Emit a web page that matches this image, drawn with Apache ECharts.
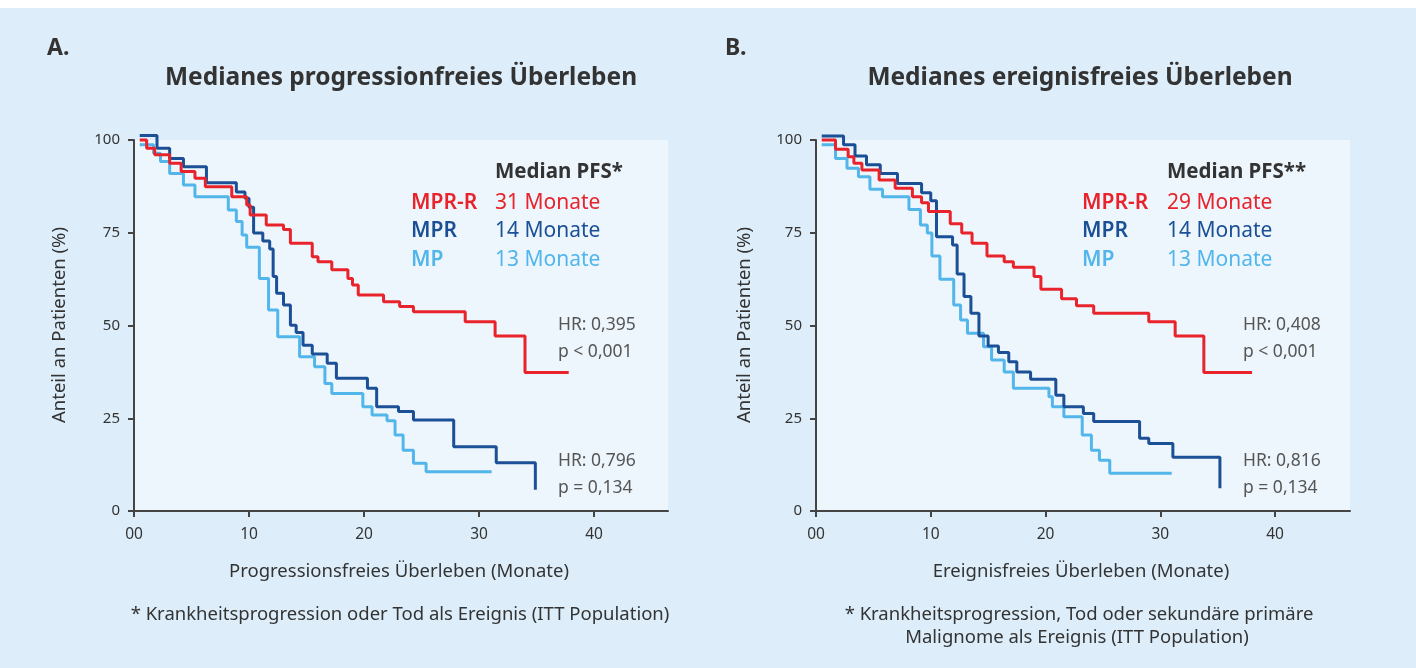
<!DOCTYPE html>
<html><head><meta charset="utf-8">
<script src="https://cdn.jsdelivr.net/npm/echarts@6/dist/echarts.min.js"></script>
<style>html,body{margin:0;padding:0;background:#fff;}#c{width:1416px;height:668px;}</style>
</head><body><div id="c"></div>
<script>
// ---- data ----
const xTickValues = [0, 10, 20, 30, 40];
const xTickLabels = ['00', '10', '20', '30', '40'];
const yTickValues = [0, 25, 50, 75, 100];

// Panel A: progression-free survival [month, % patients]
const pfsMPRR = [[0.5,100],[1.1,97.8],[1.8,96.0],[3.1,93.7],[4.1,91.5],[5.3,89.7],[6.2,87.4],[8.5,84.7],[9.8,82.5],[10.1,79.8],[11.5,77.1],[13.0,75.9],[13.6,72.2],[15.5,68.5],[16.0,67.2],[17.2,65.0],[18.6,62.7],[19.0,60.9],[19.5,58.2],[21.7,56.4],[23.1,55.1],[24.3,53.7],[28.8,51.0],[31.4,47.2],[34.0,37.3],[37.8,37.3]];
const pfsMPR = [[0.5,101.2],[2.0,97.8],[3.1,95.0],[4.3,92.8],[6.3,88.5],[8.9,86.0],[9.65,84.3],[10.0,81.9],[10.4,74.9],[11.2,72.8],[11.8,70.6],[12.1,63.2],[12.4,58.7],[13.0,55.5],[13.6,50.1],[14.1,48.1],[14.7,44.7],[15.5,42.3],[16.8,39.8],[17.6,35.8],[20.3,33.1],[21.1,28.1],[23.0,26.8],[24.3,24.5],[27.8,17.3],[31.5,13.0],[34.9,5.7]];
const pfsMP = [[0.5,98.7],[1.7,96.4],[2.3,94.2],[3.1,91.0],[4.3,87.9],[5.3,84.7],[8.2,81.1],[8.9,78.0],[9.4,74.4],[9.8,71.1],[10.9,62.7],[11.7,54.2],[12.5,47.0],[14.4,41.6],[15.7,38.9],[16.6,34.4],[17.2,31.7],[19.9,28.1],[20.7,25.9],[22.0,24.3],[22.7,20.5],[23.4,16.4],[24.3,12.9],[25.4,10.6],[31.1,10.6]];

// Panel B: event-free survival [month, % patients]
const efsMPRR = [[0.5,100],[1.7,97.5],[2.8,95.5],[3.3,93.7],[4.0,91.9],[5.5,89.2],[6.9,87.0],[8.4,84.7],[9.2,83.1],[9.8,80.7],[11.7,77.4],[12.7,74.9],[13.6,72.2],[14.9,68.7],[16.4,67.2],[17.2,65.7],[19.0,63.2],[19.6,59.8],[21.4,57.2],[22.7,55.3],[24.2,53.3],[29.0,51.0],[31.3,47.2],[33.8,37.3],[38.0,37.3]];
const efsMPR = [[0.5,101.1],[2.4,98.7],[3.4,95.7],[4.4,93.3],[5.6,91.0],[7.1,88.3],[9.2,85.8],[10.0,83.6],[10.5,73.9],[11.9,71.7],[12.3,63.9],[12.9,57.8],[13.5,53.3],[14.2,47.2],[15.0,44.5],[15.9,42.7],[16.8,40.2],[17.5,37.5],[18.7,35.5],[20.9,31.2],[21.6,28.1],[23.3,26.3],[24.2,24.1],[28.2,19.6],[29.0,18.2],[31.1,14.5],[35.2,6.1]];
const efsMP = [[0.5,98.7],[1.7,95.0],[2.7,92.4],[3.7,90.1],[4.7,86.7],[5.8,84.7],[8.1,81.3],[9.1,77.1],[9.7,74.9],[10.1,68.7],[10.8,62.5],[12.0,55.5],[12.6,51.5],[13.2,47.9],[14.6,44.3],[15.3,40.7],[16.4,37.5],[17.2,33.1],[20.3,30.8],[20.6,28.1],[21.6,25.4],[23.2,20.5],[24.0,16.4],[24.7,13.7],[25.6,10.2],[31.0,10.2]];

const groups = ['MPR-R', 'MPR', 'MP'];
const mediansA = ['31 Monate', '14 Monate', '13 Monate'];
const mediansB = ['29 Monate', '14 Monate', '13 Monate'];

// ---- styles ----
const COL = { 'MPR-R': '#e8232b', 'MPR': '#1b5096', 'MP': '#52b6ea' };
const FONT = "'Noto Sans', sans-serif";
const AX = '#444';

function xAxis(gi, max) {
  return {
    type: 'value', gridIndex: gi, min: 0, max: max, interval: 10,
    axisLine: { show: true, onZero: false, lineStyle: { color: AX, width: 2 } },
    axisTick: { show: true, length: 6, customValues: xTickValues, lineStyle: { color: AX, width: 2 } },
    axisLabel: { customValues: xTickValues, margin: 16, color: '#333', fontSize: 15.5, fontFamily: FONT,
      formatter: v => xTickLabels[xTickValues.indexOf(v)] || '' },
    splitLine: { show: false }
  };
}
function yAxis(gi) {
  return {
    type: 'value', gridIndex: gi, min: 0, max: 100, interval: 25,
    axisLine: { show: true, lineStyle: { color: AX, width: 2 } },
    axisTick: { show: true, length: 6, customValues: yTickValues, lineStyle: { color: AX, width: 2 } },
    axisLabel: { customValues: yTickValues, margin: 14, color: '#333', fontSize: 15, fontFamily: FONT },
    splitLine: { show: false }
  };
}
function line(name, data, gi) {
  return { type: 'line', name: name, xAxisIndex: gi, yAxisIndex: gi, data: data, step: 'end',
    showSymbol: false, symbol: 'none', clip: false, animation: false,
    lineStyle: { color: COL[name], width: 3 }, itemStyle: { color: COL[name] } };
}
function txt(x, y, text, opt) {
  opt = opt || {};
  return { type: 'text', x: x, y: y, rotation: opt.rot || 0, z: 10,
    style: { text: text, fill: opt.fill || '#333', font: (opt.weight || 'normal') + ' ' + (opt.size || 15) + 'px ' + FONT,
      textAlign: opt.align || 'left', textVerticalAlign: 'middle' } };
}

const graphics = [
  { type: 'rect', shape: { x: 0, y: 8, width: 1416, height: 660 }, style: { fill: '#ddeefa' }, z: -10 },
  txt(47, 48, 'A.', { weight: 'bold', size: 23 }),
  txt(725, 48, 'B.', { weight: 'bold', size: 23 }),
  txt(401, 78, 'Medianes progressionfreies Überleben', { weight: 'bold', size: 24.5, align: 'center' }),
  txt(1080, 78, 'Medianes ereignisfreies Überleben', { weight: 'bold', size: 24.5, align: 'center' }),
  txt(60, 325, 'Anteil an Patienten (%)', { size: 18.5, align: 'center', rot: Math.PI / 2 }),
  txt(745, 325, 'Anteil an Patienten (%)', { size: 18.5, align: 'center', rot: Math.PI / 2 }),
  txt(399, 572, 'Progressionsfreies Überleben (Monate)', { size: 18.5, align: 'center' }),
  txt(1081, 572, 'Ereignisfreies Überleben (Monate)', { size: 18.5, align: 'center' }),
  txt(400, 615, '* Krankheitsprogression oder Tod als Ereignis (ITT Population)', { size: 18.5, align: 'center' }),
  txt(1079, 615, '* Krankheitsprogression, Tod oder sekundäre primäre', { size: 18.5, align: 'center' }),
  txt(1077, 638, 'Malignome als Ereignis (ITT Population)', { size: 18.5, align: 'center' }),
  // legend A
  txt(495, 172, 'Median PFS*', { weight: 'bold', size: 20.5 }),
  // legend B
  txt(1167, 172, 'Median PFS**', { weight: 'bold', size: 20.5 }),
  // HR A
  txt(558, 325, 'HR: 0,395', { size: 17.5, fill: '#555' }),
  txt(558, 352, 'p < 0,001', { size: 17.5, fill: '#555' }),
  txt(558, 461, 'HR: 0,796', { size: 17.5, fill: '#555' }),
  txt(558, 488, 'p = 0,134', { size: 17.5, fill: '#555' }),
  // HR B
  txt(1243, 325, 'HR: 0,408', { size: 17.5, fill: '#555' }),
  txt(1243, 352, 'p < 0,001', { size: 17.5, fill: '#555' }),
  txt(1243, 461, 'HR: 0,816', { size: 17.5, fill: '#555' }),
  txt(1243, 488, 'p = 0,134', { size: 17.5, fill: '#555' })
];
const rowY = [203, 231, 260];
groups.forEach((g, i) => {
  graphics.push(txt(411, rowY[i], g, { weight: '600', size: 21, fill: COL[g] }));
  graphics.push(txt(495, rowY[i], mediansA[i], { size: 21, fill: COL[g] }));
  graphics.push(txt(1082, rowY[i], g, { weight: '600', size: 21, fill: COL[g] }));
  graphics.push(txt(1167, rowY[i], mediansB[i], { size: 21, fill: COL[g] }));
});

const chart = echarts.init(document.getElementById('c'), null, { renderer: 'canvas' });
chart.setOption({
  backgroundColor: '#ffffff',
  animation: false,
  grid: [
    { left: 134, top: 140, width: 534, height: 371, show: true, backgroundColor: '#eef6fd', borderWidth: 0 },
    { left: 816, top: 140, width: 534, height: 371, show: true, backgroundColor: '#eef6fd', borderWidth: 0 }
  ],
  xAxis: [xAxis(0, 534 / 11.5), xAxis(1, 534 / 11.475)],
  yAxis: [yAxis(0), yAxis(1)],
  series: [
    line('MP', pfsMP, 0), line('MPR', pfsMPR, 0), line('MPR-R', pfsMPRR, 0),
    line('MP', efsMP, 1), line('MPR', efsMPR, 1), line('MPR-R', efsMPRR, 1)
  ],
  graphic: graphics
});
</script></body></html>
